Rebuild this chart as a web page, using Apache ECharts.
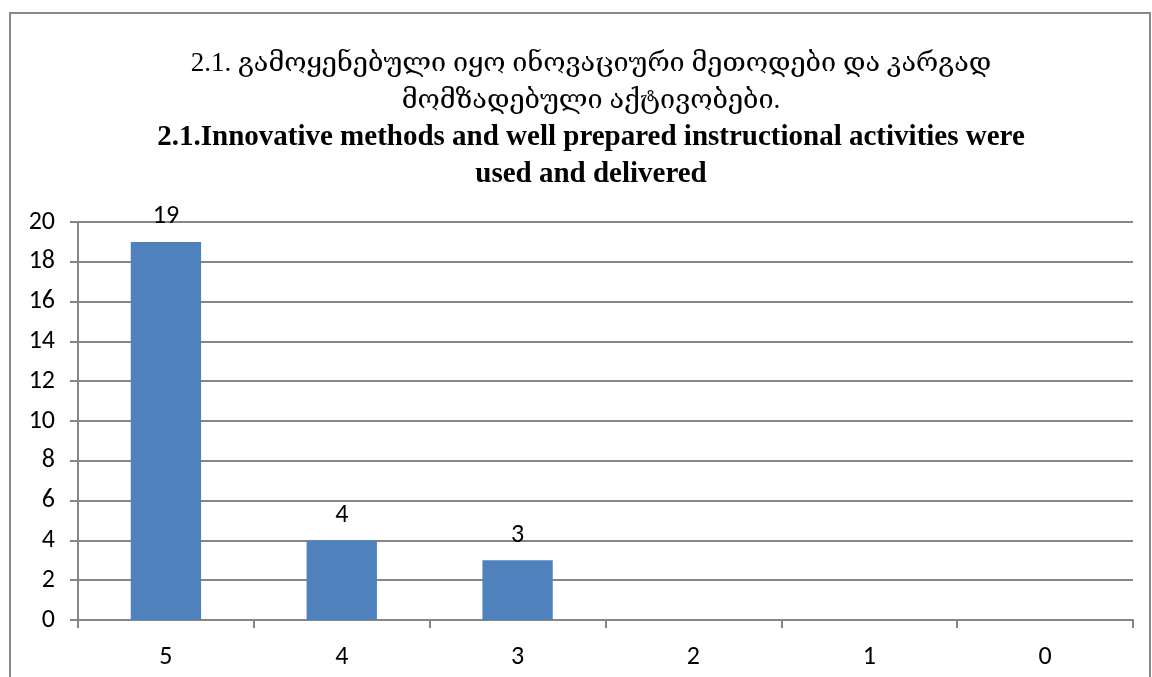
<!DOCTYPE html>
<html>
<head>
<meta charset="utf-8">
<script src="https://cdn.jsdelivr.net/npm/echarts@6/dist/echarts.min.js"></script>
<style>
body { margin: 0; background: #fff; }
#container { width: 1152px; height: 677px; }
</style>
</head>
<body>
<div id="container"></div>
<script>
var categories = ['5', '4', '3', '2', '1', '0'];
var counts = [19, 4, 3, 0, 0, 0];
var titleGeo = [
    '2.1. გამოყენებული იყო ინოვაციური მეთოდები და კარგად',
    'მომზადებული აქტივობები.'
];
var titleEng = [
    '2.1.Innovative methods and well prepared instructional activities were',
    'used and delivered'
];

var dom = document.getElementById('container');
var myChart = echarts.init(dom);
var labelFont = 'Carlito, "Open Sans", "DejaVu Sans", sans-serif';
var serifFont = '"Liberation Serif", "DejaVu Serif", serif';

var titleText = titleGeo.map(function (s) { return '{g|' + s + '}'; })
    .concat(titleEng.map(function (s) { return '{e|' + s + '}'; }))
    .join('\n');

var option = {
    backgroundColor: '#fff',
    animation: false,
    graphic: [
        {
            type: 'rect',
            shape: { x: 10, y: 13, width: 1140, height: 700 },
            style: { fill: 'none', stroke: '#888', lineWidth: 2 }
        }
    ],
    title: {
        text: titleText,
        left: 586,
        top: 40,
        textAlign: 'center',
        textStyle: {
            rich: {
                g: {
                    fontFamily: serifFont,
                    fontWeight: 'normal',
                    fontSize: 27,
                    lineHeight: 37,
                    color: '#000'
                },
                e: {
                    fontFamily: serifFont,
                    fontWeight: 'bold',
                    fontSize: 29,
                    lineHeight: 37,
                    color: '#000'
                }
            }
        }
    },
    grid: {
        left: 78,
        right: 19,
        top: 222,
        bottom: 57
    },
    xAxis: {
        type: 'category',
        data: categories,
        axisLine: { lineStyle: { color: '#868686', width: 2 } },
        axisTick: { show: true, length: 8, lineStyle: { color: '#868686', width: 2 } },
        axisLabel: { fontSize: 26, color: '#000', margin: 24, fontFamily: labelFont }
    },
    yAxis: {
        type: 'value',
        min: 0,
        max: 20,
        interval: 2,
        axisLine: { show: true, lineStyle: { color: '#868686', width: 2 } },
        axisTick: { show: true, length: 8, lineStyle: { color: '#868686', width: 2 } },
        splitLine: { lineStyle: { color: '#868686', width: 2 } },
        axisLabel: { fontSize: 26, color: '#000', margin: 23, fontFamily: labelFont }
    },
    series: [
        {
            type: 'bar',
            data: counts,
            barCategoryGap: '60%',
            itemStyle: { color: '#4F81BD' },
            label: {
                show: true,
                position: 'top',
                distance: 12,
                fontSize: 26,
                color: '#000',
                fontFamily: labelFont,
                formatter: function (p) { return p.value > 0 ? p.value : ''; }
            }
        }
    ]
};

myChart.setOption(option, true);
</script>
</body>
</html>
